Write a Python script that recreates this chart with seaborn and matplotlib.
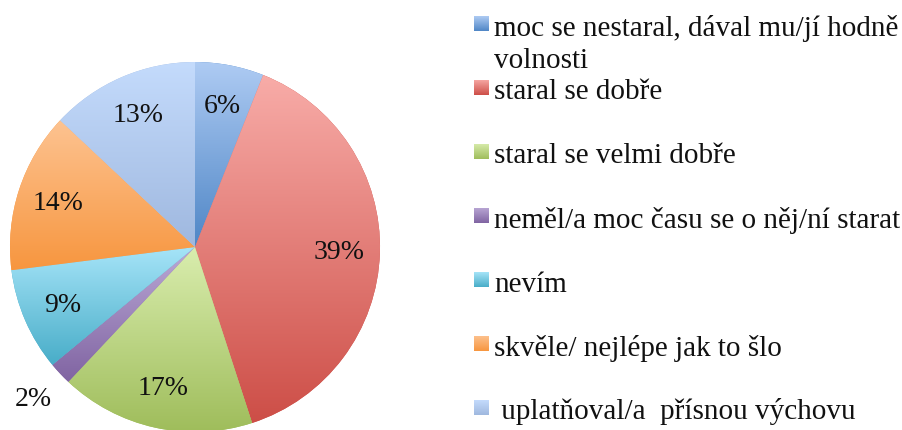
import numpy as np
import seaborn as sns
import matplotlib.pyplot as plt
from matplotlib.colors import LinearSegmentedColormap

# data
kategorie = [
    "moc se nestaral, dával mu/jí hodně\nvolnosti",
    "staral se dobře",
    "staral se velmi dobře",
    "neměl/a moc času se o něj/ní starat",
    "nevím",
    "skvěle/ nejlépe jak to šlo",
    " uplatňoval/a  přísnou výchovu",
]
procenta = [6, 39, 17, 2, 9, 14, 13]

# gradient colors (top, bottom)
barvy_nahore = ["#aecbf3", "#f8aca8", "#d9edae", "#bba9d6", "#a6e4f8", "#fdc391", "#c4dbfc"]
barvy_dole = ["#4f86c6", "#cd4e47", "#9fbd5b", "#8064a2", "#48adc8", "#f7963f", "#9fb8df"]

sns.set_theme(style="white")
plt.rcParams['font.family'] = ['Liberation Serif', 'DejaVu Serif']

W, H = 903, 431
fig = plt.figure(figsize=(W / 100, H / 100), dpi=100)
fig.patch.set_facecolor("white")

cx, cy, r = 195, 248, 185
ax = fig.add_axes([(cx - r) / W, (H - cy - r) / H, 2 * r / W, 2 * r / H])

wedges, texts, autotexts = ax.pie(
    procenta, startangle=90, counterclock=False,
    colors=barvy_dole, autopct=lambda p: f"{p:.0f}%", pctdistance=0.78,
    textprops={"fontsize": 20, "color": "#111111"},
)

grad = np.linspace(0, 1, 256).reshape(-1, 1)
for w, top, bot in zip(wedges, barvy_nahore, barvy_dole):
    w.set_linewidth(0)
    bb = w.get_path().get_extents()
    cmap = LinearSegmentedColormap.from_list("g", [bot, top])
    im = ax.imshow(grad, cmap=cmap, extent=[bb.x0, bb.x1, bb.y0, bb.y1],
                   origin="lower", aspect="auto", zorder=1.5)
    im.set_clip_path(w)
ax.set_xlim(-1, 1)
ax.set_ylim(-1, 1)
ax.set_aspect("auto")

# small slice label placed outside
w = wedges[3]
mid = np.deg2rad((w.theta1 + w.theta2) / 2)
autotexts[3].set_position((1.2 * np.cos(mid), 1.2 * np.sin(mid)))
for t in autotexts:
    t.set_zorder(3)

# legend drawn by hand
for i, (lab, top, bot) in enumerate(zip(kategorie, barvy_nahore, barvy_dole)):
    yc = 24.5 + 64 * i
    lax = fig.add_axes([474 / W, (H - yc - 7.5) / H, 15 / W, 15 / H])
    lax.imshow(grad, cmap=LinearSegmentedColormap.from_list("g", [bot, top]),
               origin="lower", aspect="auto")
    lax.axis("off")
    for k, radek in enumerate(lab.split("\n")):
        fig.text(494 / W, 1 - (yc + 11 + 32 * k) / H, radek, fontsize=21,
                 va="baseline", ha="left", color="#111111")

fig.savefig("out.png", dpi=100)
